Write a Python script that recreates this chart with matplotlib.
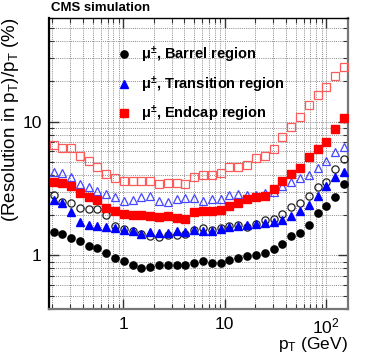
import matplotlib
matplotlib.use('Agg')
import matplotlib.pyplot as plt
from matplotlib.ticker import FixedLocator, FixedFormatter, NullFormatter

plt.rcParams['font.family'] = ['Liberation Sans', 'DejaVu Sans']
plt.rcParams['mathtext.fontset'] = 'custom'
plt.rcParams['mathtext.rm'] = 'Liberation Sans'
plt.rcParams['mathtext.it'] = 'Liberation Sans:italic'
plt.rcParams['mathtext.bf'] = 'Liberation Sans:bold'
plt.rcParams['mathtext.default'] = 'regular'

# ---- data ----
pt = [0.205, 0.250, 0.305, 0.373, 0.455, 0.556, 0.679, 0.829, 1.012, 1.236,
      1.510, 1.844, 2.25, 2.75, 3.36, 4.10, 5.01, 6.12, 7.47, 9.12,
      11.1, 13.6, 16.6, 20.3, 24.8, 30.3, 37.0, 45.2, 55.1, 67.3,
      82.2, 100.4, 122.6, 149.6]

barrel_filled = [1.50, 1.45, 1.36, 1.29, 1.17, 1.14, 1.04, 0.95, 0.91, 0.85,
                 0.81, 0.82, 0.85, 0.85, 0.85, 0.85, 0.88, 0.91, 0.88, 0.88,
                 0.93, 0.96, 0.99, 1.01, 1.05, 1.11, 1.22, 1.39, 1.48, 1.68,
                 2.09, 2.34, 2.72, 3.41]
barrel_open = [2.85, 2.51, 2.47, 2.26, 2.24, 2.24, 2.02, 1.65, 1.57, 1.51,
               1.45, 1.39, 1.37, 1.41, 1.43, 1.44, 1.54, 1.61, 1.54, 1.59,
               1.66, 1.68, 1.63, 1.72, 1.83, 1.88, 2.05, 2.30, 2.47, 2.76,
               3.25, 3.55, 4.42, 5.22]
trans_filled = [2.59, 2.47, 2.11, 1.78, 1.70, 1.66, 1.64, 1.61, 1.54, 1.51,
                1.45, 1.50, 1.48, 1.48, 1.52, 1.50, 1.56, 1.52, 1.52, 1.57,
                1.63, 1.66, 1.68, 1.73, 1.75, 1.78, 1.85, 1.97, 2.15, 2.37,
                2.77, 3.31, 3.83, 4.22]
trans_open = [4.17, 4.10, 3.87, 3.39, 3.22, 3.04, 2.90, 2.74, 2.55, 2.59,
              2.74, 2.77, 2.54, 2.49, 2.66, 2.69, 2.69, 2.55, 2.63, 2.66,
              2.83, 2.90, 2.85, 2.85, 2.93, 2.98, 3.29, 3.55, 3.76, 3.98,
              4.52, 5.10, 5.89, 6.49]
endcap_filled = [3.51, 3.45, 3.29, 2.93, 2.74, 2.59, 2.28, 2.15, 2.05, 2.02,
                 2.00, 1.97, 1.94, 1.97, 1.92, 1.88, 2.10, 2.14, 2.14, 2.18,
                 2.34, 2.47, 2.62, 2.74, 2.77, 3.13, 3.59, 4.03, 4.47, 5.41,
                 6.24, 7.04, 8.81, 10.6]
endcap_filled_err = [0]*33 + [0.9]
endcap_open = [6.68, 6.35, 6.31, 5.53, 5.05, 4.57, 4.07, 3.80, 3.59, 3.59,
               3.60, 3.59, 3.39, 3.49, 3.49, 3.39, 3.87, 3.96, 4.00, 4.10,
               4.55, 4.59, 4.73, 5.34, 5.53, 6.21, 7.68, 9.12, 10.9, 13.3,
               15.8, 18.1, 21.8, 25.6]

labels = [r'$\mu^{\pm}$, Barrel region',
          r'$\mu^{\pm}$, Transition region',
          r'$\mu^{\pm}$, Endcap region']
x_major = [1, 10, 100]
x_major_labels = ['1', '10', r'$10^{2}$']
y_major = [1, 10]
y_major_labels = ['1', '10']

# ---- figure ----
fig = plt.figure(figsize=(3.74, 3.55), dpi=100)
ax = fig.add_axes([0.1297, 0.1307, 0.800, 0.8197])
ax.set_xscale('log')
ax.set_yscale('log')
ax.set_xlim(0.183, 163)
ax.set_ylim(0.4, 60)

ms = 5.2
mew = 0.9
c_red_open = '#ff5a5a'
c_blue_open = '#4646ff'

ax.plot(pt, endcap_open, 's', ms=ms, mfc='none', mec=c_red_open, mew=mew, zorder=3)
ax.plot(pt, trans_open, '^', ms=ms + 0.6, mfc='none', mec=c_blue_open, mew=mew, zorder=3)
ax.plot(pt, barrel_open, 'o', ms=ms, mfc='none', mec='#222222', mew=mew, zorder=3)
h1, = ax.plot(pt, barrel_filled, 'o', ms=ms, color='black', mec='black', zorder=4)
h2, = ax.plot(pt, trans_filled, '^', ms=ms + 0.6, color='#0000ff', mec='#0000ff', zorder=4)
eb = ax.errorbar(pt, endcap_filled, yerr=endcap_filled_err, fmt='s', ms=ms,
                 color='#ff0000', mec='#ff0000', ecolor='#555555', elinewidth=0.8,
                 capsize=0, zorder=4)
h3 = eb.lines[0]

# ticks
ax.xaxis.set_major_locator(FixedLocator(x_major))
ax.xaxis.set_major_formatter(FixedFormatter(x_major_labels))
ax.yaxis.set_major_locator(FixedLocator(y_major))
ax.yaxis.set_major_formatter(FixedFormatter(y_major_labels))
xminor = [m * 10.0**e for e in (-1, 0, 1, 2) for m in range(2, 10)]
yminor = [m * 10.0**e for e in (-1, 0, 1) for m in range(2, 10)]
ax.xaxis.set_minor_locator(FixedLocator(xminor))
ax.yaxis.set_minor_locator(FixedLocator(yminor))
ax.xaxis.set_minor_formatter(NullFormatter())
ax.yaxis.set_minor_formatter(NullFormatter())
ax.tick_params(which='both', direction='in', top=True, right=True, colors='#333333',
               labelcolor='black')
ax.tick_params(which='major', length=7, width=1.0, labelsize=12.5)
ax.tick_params(which='minor', length=3.5, width=0.8)
ax.tick_params(axis='x', which='major', pad=6)
ax.tick_params(axis='y', which='major', pad=5)

ax.grid(which='both', linestyle=(0, (1, 1.2)), color='#8a8a8a', linewidth=0.7, zorder=0)
ax.set_axisbelow(True)

for side in ('left', 'top'):
    ax.spines[side].set_color('black')
ax.spines['left'].set_linewidth(1.6)
ax.spines['top'].set_linewidth(1.0)
ax.spines['bottom'].set_color('#777777')
ax.spines['bottom'].set_linewidth(1.6)
ax.spines['right'].set_color('#777777')
ax.spines['right'].set_linewidth(1.6)

# legend
leg = ax.legend([h1, h2, h3], labels, loc='upper left',
                bbox_to_anchor=(0.3198, 1 - 45.0 / 355), bbox_transform=fig.transFigure,
                frameon=False, prop={'size': 10.5, 'weight': 'bold'},
                handlelength=0.6, handletextpad=0.9, labelspacing=0.62,
                borderpad=0, borderaxespad=0, numpoints=1)

# labels
fig.text(11 / 374, 1 - 17.0 / 355, r'(Resolution in $p_{T}$)/$p_{T}$ (%)',
         rotation=90, ha='center', va='top', fontsize=13.5)
fig.text(348 / 374, 1 - 349.0 / 355, r'$p_{T}$ (GeV)', ha='right', va='baseline',
         fontsize=12.5)
fig.text(51 / 374, 1 - 2.0 / 355, 'CMS simulation', ha='left', va='top',
         fontsize=9.5, weight='bold')

fig.savefig('out.png', dpi=100)
